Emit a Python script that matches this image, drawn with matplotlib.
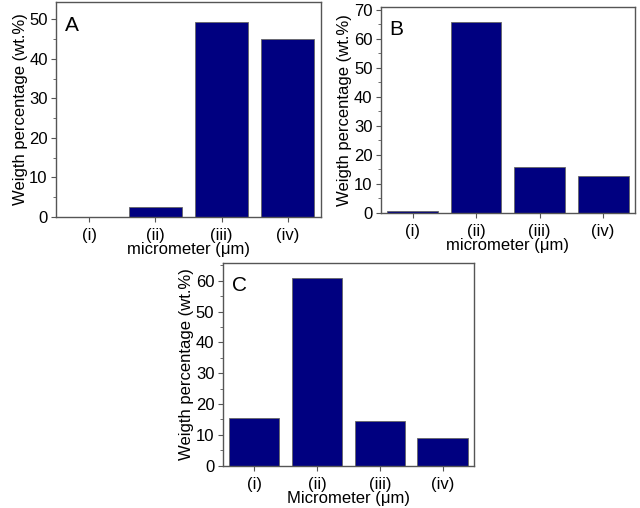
import numpy as np
import matplotlib
matplotlib.use("Agg")
import matplotlib.pyplot as plt
from matplotlib.ticker import MultipleLocator

plt.rcParams['font.family'] = ['Liberation Sans', 'DejaVu Sans']

cats = ['(i)', '(ii)', '(iii)', '(iv)']
wt_a = [0.0, 2.5, 49.4, 45.1]
wt_b = [0.6, 65.7, 15.9, 12.6]
wt_c = [15.4, 60.8, 14.5, 9.1]

bar_col = '#000080'
spine_col = '#555555'

fig = plt.figure(figsize=(6.4, 5.08), dpi=100)

panels = [
    # rect, data, ylim, major, letter, xlabel
    ([0.0875, 0.5728, 0.4141, 0.4232], wt_a, 54.4, 10, 'A', 'micrometer (μm)'),
    ([0.595, 0.5807, 0.397, 0.4055], wt_b, 70.9, 10, 'B', 'micrometer (μm)'),
    ([0.348, 0.0833, 0.3926, 0.399], wt_c, 65.8, 10, 'C', 'Micrometer (μm)'),
]

x = np.arange(1, len(cats) + 1)
for rect, vals, ytop, major, letter, xlab in panels:
    ax = fig.add_axes(rect)
    ax.bar(x, vals, width=0.8, color=bar_col, edgecolor='#666666', linewidth=0.6)
    ax.set_xlim(0.5, 4.5)
    ax.set_ylim(0, ytop)
    ax.set_xticks(x)
    ax.set_xticklabels(cats)
    ax.yaxis.set_major_locator(MultipleLocator(major))
    ax.yaxis.set_minor_locator(MultipleLocator(major / 2))
    ax.tick_params(axis='both', direction='out', labelsize=12, colors=spine_col,
                   labelcolor='black', length=3.5, width=0.8, pad=2.5)
    ax.tick_params(axis='x', pad=4.5)
    ax.tick_params(axis='y', which='minor', direction='out', length=2, width=0.6,
                   colors=spine_col)
    for s in ax.spines.values():
        s.set_color(spine_col)
        s.set_linewidth(1.0)
    ax.set_ylabel('Weigth percentage (wt.%)', fontsize=12, labelpad=1)
    ax.set_xlabel(xlab, fontsize=12, labelpad=-0.5)
    ax.text(0.035, 0.89, letter, transform=ax.transAxes, ha='left', va='center',
            fontsize=15)

fig.savefig('out.png', dpi=100)
